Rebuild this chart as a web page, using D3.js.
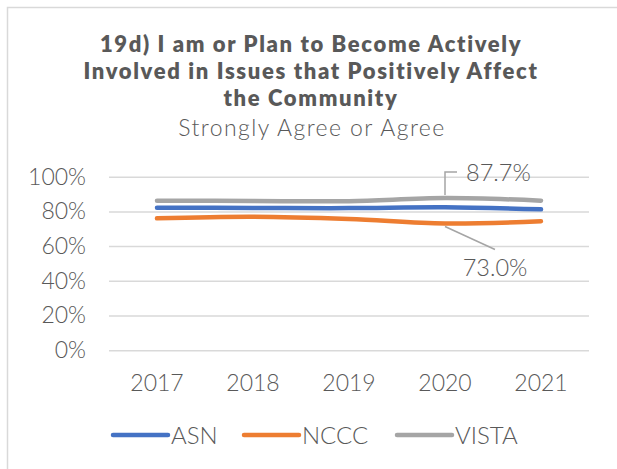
<!DOCTYPE html>
<html>
<head>
<meta charset="utf-8">
<script src="https://cdn.jsdelivr.net/npm/d3@7"></script>
<style>
  body { margin: 0; background: #fff; }
  text { fill: #595959; font-family: Lato, "Open Sans", sans-serif; }
  .axis text { font-weight: 300; font-size: 23px; }
  .legend text { font-weight: 300; font-size: 24px; }
  .title { font-weight: 800; font-size: 22px; }
  .subtitle { font-weight: 300; font-size: 23px; }
</style>
</head>
<body>
<script>
'use strict'

const years = ["2017", "2018", "2019", "2020", "2021"];
const seriesNames = ["ASN", "NCCC", "VISTA"];
const colors = ["#4472C4", "#ED7D31", "#A5A5A5"];
const asn = [82.1, 82.0, 81.9, 82.4, 81.2];
const nccc = [76.0, 76.9, 75.6, 73.0, 74.3];
const vista = [86.2, 86.0, 85.9, 87.7, 86.2];
const yTicks = [0, 20, 40, 60, 80, 100];
const titleLines = ["19d) I am or Plan to Become Actively", "Involved in Issues that Positively Affect", "the Community"];
const subtitle = "Strongly Agree or Agree";

const w = 617;
const h = 469;

const series = [asn, nccc, vista].map((vals, i) => ({
	name: seriesNames[i],
	color: colors[i],
	values: vals.map((v, j) => ({ year: years[j], value: v }))
}));

const svg = d3.select("body")
	.append("svg")
	.attr("width", w)
	.attr("height", h);

// chart frame
svg.append("rect")
	.attr("x", 7.5)
	.attr("y", 7.5)
	.attr("width", 700)
	.attr("height", 600)
	.attr("fill", "none")
	.attr("stroke", "#d9d9d9")
	.attr("stroke-width", 1.5);

const titles = svg.selectAll(".title")
	.data(titleLines)
	.enter()
	.append("text")
	.attr("class", "title")
	.attr("x", 311)
	.attr("y", (d, i) => 52 + i * 26.8)
	.attr("text-anchor", "middle")
	.text(d => d);

// widen the letters a bit so the longest line matches the original width
const longest = titles.filter((d, i) => i == 1).node().getComputedTextLength();
const spacing = Math.max(0, (453 - longest) / (titleLines[1].length - 1));
titles.style("letter-spacing", spacing + "px");

const sub = svg.append("text")
	.attr("class", "subtitle")
	.attr("x", 312)
	.attr("y", 136)
	.attr("text-anchor", "middle")
	.text(subtitle);
const subLen = sub.node().getComputedTextLength();
sub.style("letter-spacing", Math.max(0, (266 - subLen) / (subtitle.length - 1)) + "px");

const xScale = d3.scaleBand()
	.domain(years)
	.range([109, 589]);

const yScale = d3.scaleLinear()
	.domain([0, 100])
	.range([350.2, 176.7]);

const yAxis = d3.axisLeft(yScale)
	.tickValues(yTicks)
	.tickSize(-(589 - 109))
	.tickPadding(23)
	.tickFormat(d => d + "%");

const gy = svg.append("g")
	.attr("class", "axis")
	.attr("transform", "translate(109,0)")
	.call(yAxis);
gy.select(".domain").remove();
gy.selectAll(".tick line").attr("stroke", "#d9d9d9").attr("stroke-width", 1.5);

const xAxis = d3.axisBottom(xScale)
	.tickSize(0)
	.tickPadding(24);

const gx = svg.append("g")
	.attr("class", "axis")
	.attr("transform", "translate(0,350.2)")
	.call(xAxis);
gx.select(".domain").remove();

const line = d3.line()
	.x(d => xScale(d.year) + xScale.bandwidth() / 2)
	.y(d => yScale(d.value))
	.curve(d3.curveCatmullRom.alpha(0.5));

svg.selectAll(".series")
	.data(series)
	.enter()
	.append("path")
	.attr("class", "series")
	.attr("fill", "none")
	.attr("stroke", d => d.color)
	.attr("stroke-width", 4.5)
	.attr("stroke-linecap", "round")
	.attr("stroke-linejoin", "round")
	.attr("d", d => line(d.values));

// data labels with leader lines (2020)
const cx = xScale("2020") + xScale.bandwidth() / 2;
const yV = yScale(vista[3]);
const yN = yScale(nccc[3]);

svg.append("path")
	.attr("fill", "none")
	.attr("stroke", "#A5A5A5")
	.attr("stroke-width", 1.5)
	.attr("d", `M${cx},${yV - 3}V${yV - 26}H${cx + 12}`);

svg.append("text")
	.attr("x", cx + 21)
	.attr("y", yV - 25)
	.attr("dy", "0.35em")
	.style("font-weight", 300)
	.style("font-size", "23.5px")
	.text(vista[3].toFixed(1) + "%");

svg.append("path")
	.attr("fill", "none")
	.attr("stroke", "#A5A5A5")
	.attr("stroke-width", 1.5)
	.attr("d", `M${cx},${yN + 3}L${cx + 50},${yN + 26}`);

svg.append("text")
	.attr("x", cx + 50)
	.attr("y", yN + 44)
	.attr("dy", "0.35em")
	.attr("text-anchor", "middle")
	.style("font-weight", 300)
	.style("font-size", "23.5px")
	.text(nccc[3].toFixed(1) + "%");

// legend
const legend = svg.append("g").attr("class", "legend");
const legendX = [113, 244, 397];
series.forEach((s, i) => {
	const g = legend.append("g").attr("transform", "translate(" + legendX[i] + ",435)");
	g.append("line")
		.attr("x1", 0)
		.attr("x2", 55)
		.attr("stroke", s.color)
		.attr("stroke-width", 4.5)
		.attr("stroke-linecap", "round");
	g.append("text")
		.attr("x", 58)
		.attr("dy", "0.36em")
		.text(s.name);
});
</script>
</body>
</html>
